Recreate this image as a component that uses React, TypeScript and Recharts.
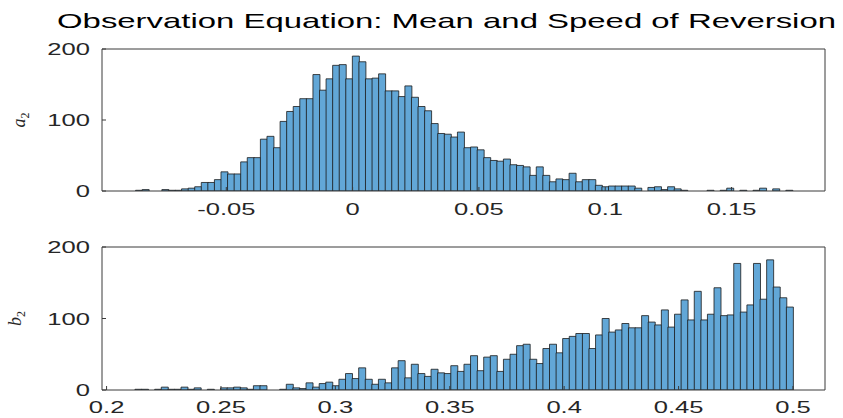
import { BarChart, Bar, XAxis, YAxis, Label } from 'recharts'

// histogram counts, 100 equal bins each
const A2_BIN_START = -0.0859
const A2_BIN_WIDTH = 0.0026
const A2_COUNTS = [
  1, 2, 0, 0, 2, 1, 1, 3, 4, 6,
  12, 12, 16, 27, 24, 24, 41, 47, 47, 73,
  77, 61, 98, 112, 119, 130, 130, 164, 142, 158,
  177, 178, 158, 190, 182, 158, 159, 165, 141, 141,
  133, 148, 132, 119, 113, 95, 81, 80, 76, 83,
  61, 62, 58, 47, 43, 42, 45, 37, 36, 34,
  22, 34, 22, 13, 17, 16, 25, 13, 16, 16,
  8, 6, 7, 7, 7, 7, 4, 0, 5, 6,
  2, 6, 3, 1, 0, 0, 0, 1, 0, 1,
  4, 0, 1, 0, 1, 4, 0, 3, 0, 1,
]

const B2_BIN_START = 0.2124
const B2_BIN_WIDTH = 0.002876
const B2_COUNTS = [
  1, 1, 0, 1, 4, 1, 1, 4, 1, 3,
  0, 1, 0, 3, 3, 4, 3, 1, 6, 6,
  0, 0, 1, 8, 3, 2, 10, 4, 9, 11,
  6, 15, 23, 16, 31, 15, 8, 15, 10, 31,
  41, 17, 36, 23, 19, 29, 24, 23, 34, 26,
  36, 48, 27, 46, 48, 26, 43, 50, 62, 64,
  43, 37, 58, 64, 52, 72, 75, 79, 79, 58,
  77, 100, 81, 84, 93, 87, 87, 104, 95, 91,
  112, 88, 106, 126, 98, 138, 98, 106, 143, 104,
  105, 177, 109, 119, 177, 127, 182, 144, 129, 116,
]

const A2_TICKS = [-0.05, 0, 0.05, 0.1, 0.15]
const B2_TICKS = [0.2, 0.25, 0.3, 0.35, 0.4, 0.45, 0.5]
const Y_TICKS = [0, 100, 200]

const A2_DOMAIN = [-0.0992, 0.187]
const B2_DOMAIN = [0.198, 0.514]

const TITLE = 'Observation Equation: Mean and Speed of Reversion'

const INK = '#262626'
const AXIS = '#3a3a3a'
const FILL = '#62a7d7'
const STRETCH = 1.55
const SANS = '"Liberation Sans", Arial, sans-serif'

const toBins = (start: number, width: number, counts: number[]) =>
  counts.map((n, i) => ({ x: start + (i + 0.5) * width, n }))

const fmt = (v: number) => (v === 0 ? '0' : String(v))

const XTick = (dyBase: number) => (props: any) => {
  const { x, y, payload } = props
  return (
    <text
      transform={`translate(${x},${y + dyBase}) scale(${STRETCH},1)`}
      textAnchor="middle"
      fontSize={16.5}
      fontFamily={SANS}
      fill={INK}
    >
      {fmt(payload.value)}
    </text>
  )
}

const YTick = (props: any) => {
  const { x, y, payload } = props
  return (
    <text
      transform={`translate(${x - 12},${y + 6}) scale(${STRETCH},1)`}
      textAnchor="end"
      fontSize={16.5}
      fontFamily={SANS}
      fill={INK}
    >
      {payload.value}
    </text>
  )
}

const SymLabel = (sym: string, baseX: number) => (props: any) => {
  const { viewBox } = props
  const cy = viewBox.y + viewBox.height / 2
  return (
    <text
      transform={`translate(${baseX},${cy}) rotate(-90)`}
      textAnchor="middle"
      fontFamily='"Liberation Serif", "Times New Roman", serif'
      fontStyle="italic"
      fontSize={18}
      fill={INK}
    >
      {sym}
      <tspan fontStyle="normal" fontSize={12} dy={4}>
        2
      </tspan>
    </text>
  )
}

interface PanelProps {
  data: { x: number; n: number }[]
  domain: number[]
  ticks: number[]
  height: number
  top: number
  xAxisHeight: number
  labelDy: number
  sym: string
  symX: number
}

function Panel({ data, domain, ticks, height, top, xAxisHeight, labelDy, sym, symX }: PanelProps) {
  return (
    <BarChart
      width={843}
      height={height}
      data={data}
      margin={{ top, right: 17, bottom: 0, left: 0 }}
      barCategoryGap={0}
      barGap={0}
    >
      <XAxis
        xAxisId="b"
        dataKey="x"
        type="number"
        domain={domain}
        allowDataOverflow
        ticks={ticks}
        height={xAxisHeight}
        tickSize={-4}
        tickMargin={4}
        stroke={AXIS}
        tick={XTick(labelDy)}
      />
      <XAxis
        xAxisId="t"
        dataKey="x"
        type="number"
        orientation="top"
        domain={domain}
        allowDataOverflow
        ticks={ticks}
        height={1}
        tickSize={-4}
        tick={false}
        stroke={AXIS}
      />
      <YAxis
        yAxisId="l"
        type="number"
        domain={[0, 200]}
        allowDataOverflow
        ticks={Y_TICKS}
        width={102}
        tickSize={-4}
        tickMargin={4}
        stroke={AXIS}
        tick={YTick}
      >
        <Label content={SymLabel(sym, symX)} />
      </YAxis>
      <YAxis
        yAxisId="r"
        orientation="right"
        type="number"
        domain={[0, 200]}
        allowDataOverflow
        ticks={Y_TICKS}
        width={1}
        tickSize={-4}
        tick={false}
        stroke={AXIS}
      />
      <Bar
        xAxisId="b"
        yAxisId="l"
        dataKey="n"
        fill={FILL}
        stroke="#1a1a1a"
        strokeWidth={0.8}
        isAnimationActive={false}
      />
    </BarChart>
  )
}

export default function App() {
  const a2 = toBins(A2_BIN_START, A2_BIN_WIDTH, A2_COUNTS)
  const b2 = toBins(B2_BIN_START, B2_BIN_WIDTH, B2_COUNTS)

  return (
    <div style={{ position: 'absolute', left: 0, top: 0, width: 843, height: 418, background: '#fff' }}>
      <svg width={843} height={40} style={{ position: 'absolute', left: 0, top: 0 }}>
        <text
          x={57}
          y={28}
          fontSize={21}
          fontFamily={SANS}
          fill="#000"
          textLength={779}
          lengthAdjust="spacingAndGlyphs"
        >
          {TITLE}
        </text>
      </svg>
      <div style={{ position: 'absolute', left: 0, top: 0 }}>
        <Panel
          data={a2}
          domain={A2_DOMAIN}
          ticks={A2_TICKS}
          height={225}
          top={48}
          xAxisHeight={34}
          labelDy={24}
          sym="a"
          symX={25}
        />
      </div>
      <div style={{ position: 'absolute', left: 0, top: 225 }}>
        <Panel
          data={b2}
          domain={B2_DOMAIN}
          ticks={B2_TICKS}
          height={193}
          top={21}
          xAxisHeight={28}
          labelDy={23}
          sym="b"
          symX={21}
        />
      </div>
    </div>
  )
}
